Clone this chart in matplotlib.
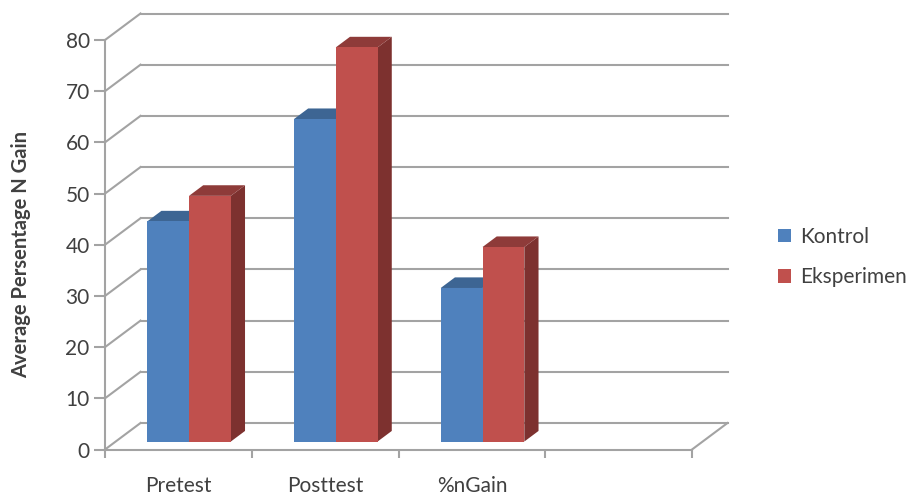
import numpy as np
from matplotlib import pyplot as plt
from matplotlib.patches import Polygon, Patch

#dane z wykresu
categories = ["Pretest", "Posttest", "%nGain", ""]
kontrol = [43, 63, 30]
eksperimen = [48, 77, 38]
y_ticks = [0, 10, 20, 30, 40, 50, 60, 70, 80]

plt.rcParams['font.family'] = ['Lato', 'DejaVu Sans']
text_color = "#404040"
grid_color = "#a3a3a3"

W, H = 911, 496
fig = plt.figure(figsize=(W/100, H/100), dpi=100)
ax = fig.add_axes([105/W, 1-449.5/H, (692-105)/W, (449.5-40)/H])
ax.set_xlim(0, len(categories))
ax.set_ylim(0, 80)

#glebokosc pseudo 3D w jednostkach osi
depth_x = 35.5/146.75
depth_y = 26.5/(409.5/80)
bar_w = 41.8/146.75
gap = (1-2*bar_w)/2

#sciana tylna i boczna
for v in y_ticks:
    ax.plot([0, depth_x], [v, v+depth_y], color=grid_color, lw=1.5, clip_on=False, zorder=1)
    ax.plot([depth_x, len(categories)+depth_x], [v+depth_y, v+depth_y], color=grid_color, lw=1.5, clip_on=False, zorder=1)
ax.plot([len(categories), len(categories)+depth_x], [0, depth_y], color=grid_color, lw=1.5, clip_on=False, zorder=1)


def bar3d(x, value, front, top, side, z):
    #slupek stoi miedzy 0.3 a 0.7 glebokosci
    x0 = x+0.3*depth_x
    y0 = 0.3*depth_y
    dx = 0.4*depth_x
    dy = 0.4*depth_y
    ax.add_patch(Polygon([(x0+bar_w, y0), (x0+bar_w+dx, y0+dy), (x0+bar_w+dx, y0+value+dy), (x0+bar_w, y0+value)],
                         facecolor=side, edgecolor="none", clip_on=False, zorder=z))
    ax.add_patch(Polygon([(x0, y0+value), (x0+dx, y0+value+dy), (x0+bar_w+dx, y0+value+dy), (x0+bar_w, y0+value)],
                         facecolor=top, edgecolor="none", clip_on=False, zorder=z))
    ax.add_patch(Polygon([(x0, y0), (x0+bar_w, y0), (x0+bar_w, y0+value), (x0, y0+value)],
                         facecolor=front, edgecolor="none", clip_on=False, zorder=z))


for i in range(len(kontrol)):
    bar3d(i+gap, kontrol[i], "#4f81bd", "#3d6593", "#3a5f8b", 3+i)
    bar3d(i+gap+bar_w, eksperimen[i], "#c0504d", "#8e3b39", "#7d312f", 3.5+i)

#osie
for s in ["top", "right"]:
    ax.spines[s].set_visible(False)
for s in ["left", "bottom"]:
    ax.spines[s].set_color(grid_color)
    ax.spines[s].set_linewidth(1.5)
    ax.spines[s].set_zorder(2)
ax.patch.set_visible(False)

ax.set_yticks(y_ticks)
ax.tick_params(axis="y", length=8, width=1.5, color=grid_color, labelsize=15, labelcolor=text_color, pad=3)
ax.set_xticks(np.arange(len(categories)+1))
ax.set_xticklabels([])
ax.tick_params(axis="x", which="major", length=6, width=1.5, color=grid_color)
ax.set_xticks(np.arange(len(categories))+0.5, labels=categories, minor=True)
ax.tick_params(axis="x", which="minor", length=0, labelsize=15, labelcolor=text_color, pad=19)

fig.text(21/W, 1-255/H, "Average Persentage N Gain", rotation=90, ha="center", va="center",
         fontsize=14.5, fontweight="bold", color=text_color)

handles = [Patch(facecolor="#4f81bd", label="Kontrol"), Patch(facecolor="#c0504d", label="Eksperimen")]
fig.legend(handles=handles, loc="center left", bbox_to_anchor=(778/W, 1-257/H), frameon=False,
           fontsize=15, labelcolor=text_color, handlelength=0.6, handleheight=0.6,
           handletextpad=0.45, labelspacing=1.0, borderpad=0, borderaxespad=0)

plt.savefig("out.png", dpi=100)
plt.close()
